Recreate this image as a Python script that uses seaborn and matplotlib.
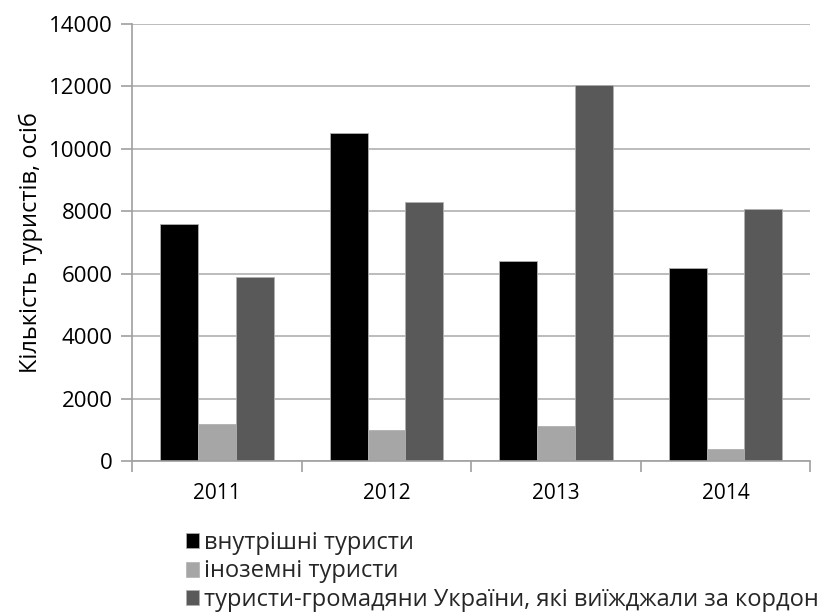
import matplotlib
matplotlib.use("Agg")
import matplotlib.pyplot as plt
import seaborn as sns
import pandas as pd
from matplotlib.patches import Patch

years = ["2011", "2012", "2013", "2014"]
series_names = ["внутрішні туристи", "іноземні туристи",
                "туристи-громадяни України, які виїжджали за кордон"]
domestic = [7600, 10500, 6400, 6170]
foreign = [1200, 1000, 1130, 380]
outbound = [5900, 8300, 12050, 8060]
colors = ["#000000", "#a6a6a6", "#595959"]
y_ticks = [0, 2000, 4000, 6000, 8000, 10000, 12000, 14000]

rows = []
for name, vals in zip(series_names, [domestic, foreign, outbound]):
    for y, v in zip(years, vals):
        rows.append({"year": y, "series": name, "value": v})
df = pd.DataFrame(rows)

sns.set_theme(style="white")
plt.rcParams['font.family'] = ['Open Sans', 'DejaVu Sans']

fig = plt.figure(figsize=(8.26, 6.12), dpi=100)
ax = fig.add_axes([0.16, 0.2467, 0.821, 0.714])

sns.barplot(data=df, x="year", y="value", hue="series", order=years,
            hue_order=series_names, palette=colors, width=0.67, gap=0,
            edgecolor="#b0b0b0", linewidth=0.6, saturation=1, ax=ax,
            legend=False)

ax.set_ylim(0, 14000)
ax.set_xlim(-0.5, 3.5)
ax.set_yticks(y_ticks)
ax.set_yticklabels([str(t) for t in y_ticks], fontsize=16, color="#000000")
ax.yaxis.grid(True, color="#b0b0b0", linewidth=1.2)
ax.set_axisbelow(True)
ax.set_xlabel("")
ax.set_ylabel("Кількість туристів, осіб", fontsize=17, color="#000000", labelpad=4)

ax.set_xticks(range(len(years)))
ax.set_xticklabels(years, fontsize=15, color="#000000")
ax.set_xticks([-0.5, 0.5, 1.5, 2.5, 3.5], minor=True)
ax.tick_params(axis="x", which="major", length=0, pad=16)
ax.tick_params(axis="x", which="minor", length=8, width=1.2, color="#a0a0a0", direction="out", bottom=True)
ax.tick_params(axis="y", which="major", length=8, width=1.2, color="#a0a0a0", direction="out", left=True, pad=6)

for s in ["top", "right"]:
    ax.spines[s].set_visible(False)
for s in ["left", "bottom"]:
    ax.spines[s].set_color("#a0a0a0")
    ax.spines[s].set_linewidth(1.2)

handles = [Patch(facecolor=c, edgecolor="#b0b0b0", linewidth=0.5) for c in colors]
fig.legend(handles, series_names, loc="upper left", bbox_to_anchor=(0.225, 0.132),
           frameon=False, fontsize=17, handlelength=0.55, handleheight=0.6,
           handletextpad=0.2, labelspacing=0.18, borderaxespad=0, borderpad=0)

fig.savefig("out.png", dpi=100)
